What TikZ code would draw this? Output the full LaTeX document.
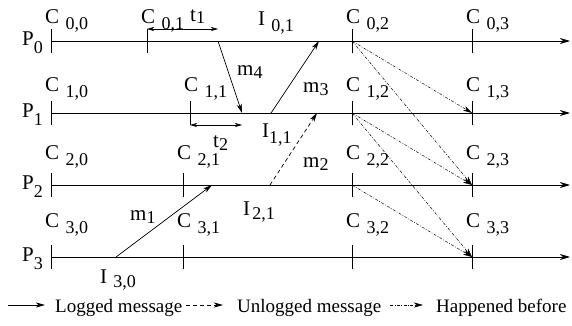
\documentclass[tikz,border=0pt]{standalone}
\usepackage{fontspec}
\setmainfont{Liberation Serif}
\usetikzlibrary{arrows.meta}
\newcommand{\lsub}[2][0.3em]{\raisebox{-#1}{\fontsize{18}{18}\selectfont #2}}
\tikzset{
  lbl/.style={font=\fontsize{21}{23}\selectfont, inner sep=0pt, anchor=base west},
  key/.style={font=\fontsize{19}{21}\selectfont, inner sep=0pt, anchor=base west},
  proc/.style={line width=0.8pt, -{Stealth[length=10pt,width=6pt,inset=3pt]}},
  tick/.style={line width=0.8pt},
  msg/.style={line width=0.7pt, -{Stealth[length=9pt,width=5pt,inset=2.5pt]}},
  lost/.style={msg, dash pattern=on 4pt off 3pt},
  hb/.style={line width=0.5pt, dash pattern=on 3pt off 1.5pt on 0.8pt off 1.5pt,
             -{Stealth[length=9pt,width=5pt,inset=2.5pt]}},
  span/.style={line width=0.6pt,
               {Stealth[length=7pt,width=4pt,inset=2pt]}-{Stealth[length=7pt,width=4pt,inset=2pt]}},
}
\begin{document}
\begin{tikzpicture}[x=1pt,y=1pt]
  \useasboundingbox (0,0) rectangle (572,325);
  % processes
  \foreach \i [evaluate=\i as \y using 284-72*\i] in {0,...,3} {
    \coordinate (ps\i) at (51,\y);
    \coordinate (pe\i) at (570,\y);
    \draw[proc] (ps\i) -- (pe\i);
    \node[lbl, anchor=base east] (lp\i) at ([shift={(-8,-4)}]ps\i) {P\lsub[0.4em]{\i}};
  }
  % checkpoints
  \foreach \i/\j/\x [evaluate=\i as \y using 284-72*\i,
                     evaluate=\i as \dy using 18+4*(\i==0)]
    in {0/0/51, 0/1/147, 0/2/352, 0/3/472,
        1/0/51, 1/1/190, 1/2/352, 1/3/472,
        2/0/51, 2/1/183, 2/2/352, 2/3/472,
        3/0/51, 3/1/183, 3/2/352, 3/3/472} {
    \coordinate (c\i\j) at (\x,\y);
    \draw[tick] ([yshift=-12pt]c\i\j) -- ([yshift=12pt]c\i\j);
    \node[lbl] (lc\i\j) at ([shift={(-6,\dy)}]c\i\j) {C\hspace{.3em}\lsub{\i,\j}};
  }
  % messages
  \coordinate (snd4) at (218,284); \coordinate (rcv4) at (242,212);
  \coordinate (snd3) at (271,212); \coordinate (rcv3) at (319,284);
  \coordinate (snd2) at (270,140); \coordinate (rcv2) at (317,212);
  \coordinate (snd1) at (116,68);  \coordinate (rcv1) at (212,140);
  \draw[msg] (snd4) -- (rcv4);
  \draw[msg] (snd3) -- (rcv3);
  \draw[lost] (snd2) -- (rcv2);
  \draw[msg] (snd1) -- (rcv1);
  % intervals
  \coordinate (t1e) at (218,296);
  \coordinate (t2e) at (242,200);
  \draw[span] ([yshift=12pt]c01) -- (t1e);
  \draw[span] ([yshift=-12pt]c11) -- (t2e);
  % happened before
  \draw[hb] (c02) -- (c13);
  \draw[hb] (c02) -- (c23);
  \draw[hb] (c12) -- (c23);
  \draw[hb] (c12) -- (c33);
  \draw[hb] (c22) -- (c33);
  % labels
  \node[lbl] (lt1) at (190,304) {t\lsub[0.1em]{1}};
  \node[lbl] (lt2) at (213,178) {t\lsub[0.15em]{2}};
  \node[lbl] (lm4) at (237,250) {m\lsub[0.15em]{4}};
  \node[lbl] (lm3) at (303,233) {m\lsub[0.15em]{3}};
  \node[lbl] (lm2) at (303,158) {m\lsub[0.15em]{2}};
  \node[lbl] (lm1) at (130,105) {m\lsub[0.15em]{1}};
  \node[lbl] (li01) at (258,300) {I\hspace{.3em}\lsub{0,1}};
  \node[lbl] (li11) at (262,188) {I\lsub{1,1}};
  \node[lbl] (li21) at (243,110) {I\hspace{.1em}\lsub[0.2em]{2,1}};
  \node[lbl] (li30) at (100,42)  {I\hspace{.3em}\lsub[0.2em]{3,0}};
  % legend
  \coordinate (ka) at (8,20);   \coordinate (kb) at (45,20);
  \coordinate (kc) at (186,20); \coordinate (kd) at (223,20);
  \coordinate (ke) at (390,20); \coordinate (kf) at (423,20);
  \draw[msg] (ka) -- (kb);
  \node[key] (klog) at (55,13) {Logged message};
  \draw[lost] (kc) -- (kd);
  \node[key] (kunl) at (237,13) {Unlogged message};
  \draw[hb] (ke) -- (kf);
  \node[key] (khb) at (436,13) {Happened before};
\end{tikzpicture}
\end{document}
